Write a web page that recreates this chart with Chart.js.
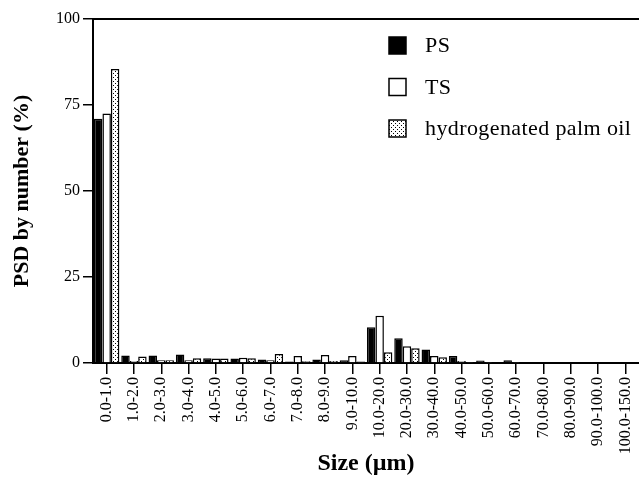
<!DOCTYPE html>
<html>
<head>
<meta charset="utf-8">
<script src="https://cdn.jsdelivr.net/npm/chart.js@4"></script>
<style>
  html, body { margin: 0; padding: 0; background: #fff; }
  #wrap { width: 639px; height: 478px; }
</style>
</head>
<body>
<div id="wrap"><canvas id="psdChart" width="639" height="478"></canvas></div>
<script>
// size classes (um)
const sizeLabels = ['0.0-1.0', '1.0-2.0', '2.0-3.0', '3.0-4.0', '4.0-5.0', '5.0-6.0', '6.0-7.0',
  '7.0-8.0', '8.0-9.0', '9.0-10.0', '10.0-20.0', '20.0-30.0', '30.0-40.0', '40.0-50.0',
  '50.0-60.0', '60.0-70.0', '70.0-80.0', '80.0-90.0', '90.0-100.0', '100.0-150.0'];

// PSD by number (%)
const psValues  = [71.0, 2.2, 2.2, 2.5, 1.4, 1.3, 1.0, 0.4, 1.0, 0.8, 10.4, 7.2, 3.9, 2.0, 0.7, 0.8, 0.3, 0.3, 0.3, 0.2];
const tsValues  = [72.5, 0.6, 0.8, 0.8, 1.3, 1.5, 0.8, 2.0, 2.3, 2.0, 13.7, 4.9, 2.0, 0.6, 0.3, 0.3, 0.2, 0.2, 0.2, 0.2];
const hpoValues = [85.5, 1.9, 0.8, 1.4, 1.3, 1.4, 2.6, 0.5, 0.6, 0.4, 3.1, 4.3, 1.7, 0.3, 0.2, 0.2, 0.2, 0.2, 0.2, 0.2];

const yTicks = [0, 25, 50, 75, 100];
const seriesNames = ['PS', 'TS', 'hydrogenated palm oil'];

// dotted fill for the palm oil bars
function dotPattern() {
  const c = document.createElement('canvas');
  c.width = 4; c.height = 4;
  const g = c.getContext('2d');
  g.fillStyle = '#fff';
  g.fillRect(0, 0, 4, 4);
  g.fillStyle = '#000';
  g.fillRect(1, 1, 1, 1);
  g.fillRect(3, 3, 1, 1);
  return g.createPattern(c, 'repeat');
}

const canvas = document.getElementById('psdChart');
const ctx = canvas.getContext('2d');
const dots = dotPattern();

// frame top line + legend inside the plot
const decor = {
  id: 'decor',
  afterDraw(chart) {
    const a = chart.chartArea;
    const c = chart.ctx;
    c.save();
    c.strokeStyle = '#000';
    c.lineWidth = 2;
    c.beginPath();
    c.moveTo(a.left - 1, a.top);
    c.lineTo(a.right, a.top);
    c.stroke();

    const boxX = 389, boxY = 37, box = 17, step = 41.5;
    chart.data.datasets.forEach((ds, i) => {
      const y = boxY + i * step;
      c.fillStyle = ds.backgroundColor;
      c.fillRect(boxX, y, box, box);
      c.lineWidth = 1.5;
      c.strokeStyle = '#000';
      c.strokeRect(boxX, y, box, box);
      c.fillStyle = '#000';
      c.font = '22px "Liberation Serif"';
      c.letterSpacing = '0.4px';
      c.textBaseline = 'middle';
      c.textAlign = 'left';
      c.fillText(ds.label, 425, y + box / 2 + 1);
    });
    c.restore();
  }
};

const tickFont = { family: 'Liberation Serif', size: 16 };

new Chart(ctx, {
  type: 'bar',
  data: {
    labels: sizeLabels,
    datasets: [
      { label: seriesNames[0], data: psValues, backgroundColor: '#000', borderColor: '#000', borderWidth: 1.5 },
      { label: seriesNames[1], data: tsValues, backgroundColor: '#fff', borderColor: '#000', borderWidth: 1.5 },
      { label: seriesNames[2], data: hpoValues, backgroundColor: dots, borderColor: '#000', borderWidth: 1.5 }
    ]
  },
  options: {
    responsive: false,
    animation: false,
    layout: { padding: { top: 19, right: 0, bottom: 0, left: 0 } },
    datasets: { bar: { categoryPercentage: 0.93, barPercentage: 1.0 } },
    plugins: { legend: { display: false }, tooltip: { enabled: false } },
    scales: {
      x: {
        offset: true,
        grid: { offset: false, drawOnChartArea: false, drawTicks: true, tickLength: 11, color: '#000', lineWidth: 1.5 },
        border: { display: true, color: '#000', width: 2 },
        ticks: { autoSkip: false, minRotation: 90, maxRotation: 90, color: '#000', font: tickFont, padding: 3 },
        title: {
          display: true, text: 'Size (\u00b5m)', color: '#000',
          font: { family: 'Liberation Serif', size: 24, weight: 'bold' },
          padding: { top: 0, bottom: 0 }
        },
        afterFit(scale) {
          scale.height = 115;
          scale.paddingLeft = 0;
          scale.paddingRight = 0;
        }
      },
      y: {
        min: 0, max: 100,
        afterBuildTicks(scale) { scale.ticks = yTicks.map(v => ({ value: v })); },
        grid: { drawOnChartArea: false, drawTicks: true, tickLength: 10, color: '#000', lineWidth: 1.5 },
        border: { display: true, color: '#000', width: 2 },
        ticks: { color: '#000', font: tickFont, padding: 3 },
        title: {
          display: true, text: 'PSD by number (%)', color: '#000',
          font: { family: 'Liberation Serif', size: 22, weight: 'bold' },
          padding: { top: 9, bottom: 0 }
        },
        afterFit(scale) {
          scale.width = 93;
          scale.paddingTop = 0;
          scale.paddingBottom = 0;
        }
      }
    }
  },
  plugins: [decor]
});
</script>
</body>
</html>
